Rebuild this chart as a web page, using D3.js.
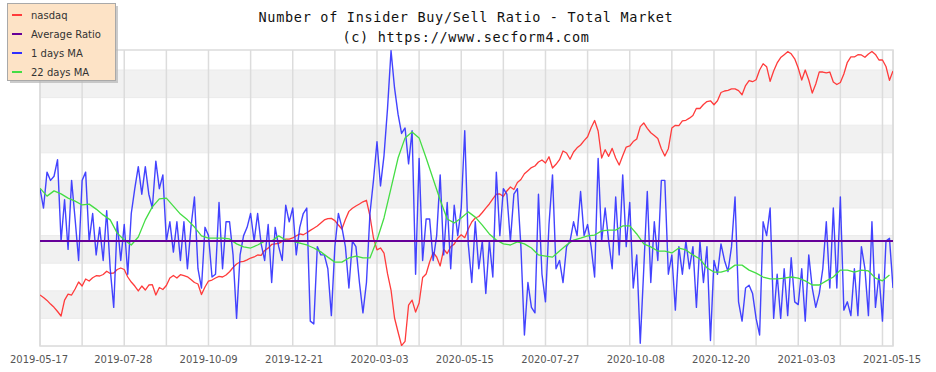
<!DOCTYPE html>
<html>

<head>
	<meta charset="UTF-8">
	<title>Number of Insider Buy/Sell Ratio - Total Market</title>
	<script src="https://cdn.jsdelivr.net/npm/d3@7"></script>
	<style>
		body {
			margin: 0;
			background: #fff;
		}

		.title {
			font-family: "DejaVu Sans Mono", monospace;
			font-size: 13.5px;
			letter-spacing: 0.7px;
			fill: #111;
		}

		.xlabel {
			font-family: "DejaVu Sans", sans-serif;
			font-size: 10px;
			fill: #555;
		}

		.legend text {
			font-family: "DejaVu Sans", sans-serif;
			font-size: 10px;
			fill: #333;
		}

		.series {
			fill: none;
			stroke-linejoin: round;
		}
	</style>
</head>

<body>
	<svg id="chart" width="936" height="372"></svg>

	<script>
		// sampling: nasdaq and 1 day MA every 3 days, 22 day MA every 6 days
		const startDate = '2019-05-17';
		const endDate = '2021-05-15';
		const sampleStep = 3;
		const maStep = 6;
		const gridStep = 36;

		const tickLabels = ['2019-05-17', '2019-07-28', '2019-10-09', '2019-12-21', '2020-03-03', '2020-05-15',
			'2020-07-27', '2020-10-08', '2020-12-20', '2021-03-03', '2021-05-15'];

		const seriesNames = ['nasdaq', 'Average Ratio', '1 days MA', '22 days MA'];
		const seriesColors = ['#ff3b3b', '#660099', '#2f2fff', '#44dd44'];

		const averageRatio = 0.38;

		const nasdaq = [
			7763, 7715, 7660, 7590, 7530, 7452, 7370, 7666, 7781, 7762,
			7879, 8016, 7937, 8076, 8036, 8102, 8142, 8136, 8166, 8232,
			8187, 8197, 8268, 8299, 8268, 8116, 8016, 7937, 7840, 7937,
			7859, 7957, 7963, 7763, 7908, 7869, 7947, 8096, 8146, 8096,
			8162, 8144, 8120, 8066, 8006, 7977, 7771, 7918, 8036, 8056,
			8096, 8128, 8116, 8156, 8222, 8309, 8381, 8423, 8437, 8468,
			8506, 8528, 8570, 8560, 8667, 8716, 8796, 8807, 8818, 8868,
			8912, 8912, 8938, 8986, 9027, 9010, 9054, 9108, 9157, 9207,
			9276, 9345, 9377, 9381, 9331, 9230, 9139, 9356, 9546, 9620,
			9674, 9722, 9775, 9811, 9437, 8938, 8678, 8720, 8612, 8183,
			7859, 7334, 7084, 6850, 6923, 7573, 7666, 7443, 7611, 8106,
			8177, 8423, 8623, 8528, 8340, 8692, 8602, 8748, 8803, 8932,
			9008, 8945, 9139, 9299, 9391, 9426, 9520, 9622, 9722, 9843,
			9961, 9966, 9904, 10040, 10139, 10077, 10253, 10329, 10476, 10556,
			10637, 10679, 10786, 10839, 10759, 10925, 10626, 10725, 10847, 11083,
			11028, 10858, 11055, 11171, 11249, 11370, 11479, 11740, 11952, 11645,
			10893, 11118, 10938, 11155, 10893, 10706, 10955, 11193, 11221, 11344,
			11417, 11770, 11878, 11722, 11594, 11514, 11429, 11146, 10947, 11146,
			11731, 11810, 11799, 11937, 11958, 12020, 12100, 12317, 12311, 12433,
			12523, 12548, 12427, 12548, 12807, 12855, 12877, 12922, 12925, 12868,
			12738, 13031, 13193, 13154, 13219, 13540, 13750, 13651, 13167, 13506,
			13778, 13963, 14065, 14168, 14095, 13922, 13608, 13209, 13540, 13209,
			12791, 13080, 13479, 13473, 13446, 13473, 13145, 13064, 13128, 13407,
			13801, 13984, 13984, 14062, 14055, 13974, 14088, 14175, 14071, 13880,
			13880, 13658, 13200, 13510
		];

		const ratio1d = [
			0.57, 0.50, 0.63, 0.60, 0.615, 0.675, 0.38, 0.53, 0.35, 0.60,
			0.46, 0.31, 0.60, 0.63, 0.38, 0.48, 0.33, 0.43, 0.31, 0.49,
			0.28, 0.14, 0.45, 0.31, 0.44, 0.26, 0.48, 0.57, 0.65, 0.55,
			0.65, 0.55, 0.50, 0.67, 0.57, 0.62, 0.38, 0.45, 0.34, 0.45,
			0.31, 0.45, 0.28, 0.43, 0.54, 0.28, 0.21, 0.43, 0.40,
			0.25, 0.26, 0.52, 0.28, 0.45, 0.45, 0.33, 0.10, 0.33, 0.40,
			0.43, 0.48, 0.38, 0.48, 0.37, 0.31, 0.44, 0.23, 0.43, 0.36,
			0.31, 0.51, 0.45, 0.50, 0.33, 0.43, 0.48, 0.50, 0.09, 0.08,
			0.36, 0.33, 0.33, 0.28, 0.11, 0.36, 0.48, 0.43, 0.36, 0.21,
			0.38, 0.36, 0.23, 0.12, 0.23, 0.48, 0.60, 0.74,
			0.58, 0.69, 0.86, 1.07, 0.935, 0.84, 0.77, 0.79, 0.66, 0.78,
			0.26, 0.68, 0.31, 0.46, 0.46, 0.31, 0.40, 0.62, 0.33, 0.52,
			0.28, 0.51, 0.40, 0.50, 0.78, 0.37, 0.23, 0.45, 0.28, 0.38,
			0.19, 0.38, 0.25, 0.63, 0.40, 0.57, 0.55, 0.38, 0.55, 0.57,
			0.36, 0.04, 0.23, 0.14, 0.12, 0.55, 0.26, 0.16, 0.44, 0.62,
			0.28, 0.31, 0.23, 0.36, 0.38, 0.45, 0.40, 0.56, 0.40, 0.44,
			0.36, 0.25, 0.68, 0.38, 0.50, 0.38, 0.28, 0.54, 0.33, 0.62,
			0.36, 0.52, 0.21, 0.33, 0.01, 0.28, 0.56, 0.23, 0.45, 0.31,
			0.60, 0.60, 0.26, 0.33, 0.13, 0.36, 0.26, 0.38, 0.28, 0.36,
			0.14, 0.38, 0.23, 0.36, 0.02, 0.31, 0.26,
			0.37, 0.31, 0.27, 0.36, 0.54, 0.16, 0.09, 0.21, 0.22, 0.19,
			0.10, 0.04, 0.45, 0.40, 0.50, 0.10, 0.26, 0.10, 0.28, 0.11,
			0.32, 0.16, 0.15, 0.28, 0.09, 0.33, 0.21, 0.14, 0.19, 0.28,
			0.45, 0.21, 0.50, 0.21, 0.54, 0.13, 0.16, 0.11, 0.28, 0.11,
			0.36, 0.28, 0.11, 0.45, 0.14, 0.26, 0.09, 0.38, 0.39, 0.21
		];

		const ratio22d = [
			0.572, 0.543, 0.562, 0.551, 0.536, 0.525, 0.511, 0.514, 0.496, 0.475,
			0.457, 0.409, 0.384, 0.366, 0.395, 0.457, 0.504, 0.533, 0.536, 0.507,
			0.478, 0.457, 0.431, 0.399, 0.391, 0.391, 0.391, 0.388, 0.370, 0.359,
			0.355, 0.366, 0.380, 0.380, 0.399, 0.384, 0.380, 0.373, 0.366, 0.355,
			0.341, 0.322, 0.304, 0.304, 0.319, 0.326, 0.319, 0.319, 0.384, 0.464,
			0.572, 0.681, 0.754, 0.775, 0.754, 0.681, 0.605, 0.529, 0.460, 0.446,
			0.464, 0.486, 0.467, 0.438, 0.406, 0.384, 0.370, 0.366, 0.377, 0.370,
			0.355, 0.330, 0.326, 0.322, 0.344, 0.366, 0.384, 0.391, 0.399, 0.402,
			0.417, 0.420, 0.420, 0.435, 0.435, 0.406, 0.370, 0.359, 0.344, 0.344,
			0.337, 0.355, 0.348, 0.330, 0.315, 0.283, 0.268, 0.268, 0.275, 0.293,
			0.293, 0.275, 0.264, 0.250, 0.243, 0.243, 0.246, 0.250, 0.246, 0.236,
			0.221, 0.221, 0.236, 0.250, 0.275, 0.275, 0.268, 0.275, 0.272, 0.246,
			0.236, 0.257
		];

		const parse = d3.utcParse('%Y-%m-%d');
		const t0 = parse(startDate), t1 = parse(endDate);

		const plot = { left: 40, right: 893, top: 50, bottom: 346 };

		const x = d3.scaleUtc().domain([t0, t1]).range([plot.left, plot.right]);
		const yRatio = d3.scaleLinear().domain([0, 1.0725]).range([plot.bottom, plot.top]);
		const yNasdaq = d3.scaleLog().domain([6843, 14227]).range([plot.bottom, plot.top]);

		const dated = (values, step) => values.map((v, i) => ({ date: d3.utcDay.offset(t0, i * step), value: v }));

		const svg = d3.select('#chart');

		svg.append('defs').append('clipPath').attr('id', 'plot-clip')
			.append('rect')
			.attr('x', plot.left).attr('y', plot.top)
			.attr('width', plot.right - plot.left).attr('height', plot.bottom - plot.top);

		// alternating bands on the ratio ticks
		const ticks = yRatio.ticks(10);
		const bandEdges = ticks.concat([yRatio.domain()[1]]);
		svg.append('g').selectAll('rect')
			.data(d3.range(bandEdges.length - 1))
			.join('rect')
			.attr('x', plot.left)
			.attr('width', plot.right - plot.left)
			.attr('y', k => yRatio(bandEdges[k + 1]))
			.attr('height', k => yRatio(bandEdges[k]) - yRatio(bandEdges[k + 1]))
			.attr('fill', k => k % 2 ? '#f1f1f1' : '#fff');

		svg.append('g').selectAll('line')
			.data(ticks)
			.join('line')
			.attr('x1', plot.left).attr('x2', plot.right)
			.attr('y1', d => yRatio(d)).attr('y2', d => yRatio(d))
			.attr('stroke', '#ebebeb').attr('stroke-width', 1);

		// vertical grid
		const gridDates = d3.utcDay.range(t0, d3.utcDay.offset(t1, 1), gridStep);
		gridDates.push(t1);
		svg.append('g').selectAll('line')
			.data(gridDates)
			.join('line')
			.attr('x1', d => x(d)).attr('x2', d => x(d))
			.attr('y1', plot.top).attr('y2', plot.bottom)
			.attr('stroke', '#dcdcdc').attr('stroke-width', 1.5);

		svg.append('rect')
			.attr('x', plot.left).attr('y', plot.top)
			.attr('width', plot.right - plot.left).attr('height', plot.bottom - plot.top)
			.attr('fill', 'none').attr('stroke', '#dcdcdc').attr('stroke-width', 1.5);

		// x labels
		svg.append('g').selectAll('text')
			.data(tickLabels)
			.join('text')
			.attr('class', 'xlabel')
			.attr('x', d => x(parse(d)) - 1)
			.attr('y', 363)
			.attr('text-anchor', 'middle')
			.text(d => d);

		// series
		const lines = svg.append('g').attr('clip-path', 'url(#plot-clip)');

		const lineRatio = d3.line().x(d => x(d.date)).y(d => yRatio(d.value));
		const lineNasdaq = d3.line().x(d => x(d.date)).y(d => yNasdaq(d.value));

		lines.append('path').attr('class', 'series')
			.attr('d', lineNasdaq(dated(nasdaq, sampleStep)))
			.attr('stroke', seriesColors[0]).attr('stroke-width', 1.3);

		lines.append('path').attr('class', 'series')
			.attr('d', lineRatio(dated(ratio1d, sampleStep)))
			.attr('stroke', seriesColors[2]).attr('stroke-width', 1.4).attr('stroke-opacity', 0.9);

		lines.append('path').attr('class', 'series')
			.attr('d', lineRatio(dated(ratio22d, maStep)))
			.attr('stroke', seriesColors[3]).attr('stroke-width', 1.3);

		lines.append('line')
			.attr('x1', x(t0)).attr('x2', x(t1))
			.attr('y1', yRatio(averageRatio)).attr('y2', yRatio(averageRatio))
			.attr('stroke', seriesColors[1]).attr('stroke-width', 2);

		// title
		svg.append('text').attr('class', 'title')
			.attr('x', 466).attr('y', 22).attr('text-anchor', 'middle')
			.text('Number of Insider Buy/Sell Ratio - Total Market');
		svg.append('text').attr('class', 'title')
			.attr('x', 466).attr('y', 42).attr('text-anchor', 'middle')
			.text('(c) https://www.secform4.com');

		// legend
		const legend = svg.append('g').attr('class', 'legend');
		legend.append('rect')
			.attr('x', 10).attr('y', 6).attr('width', 108).attr('height', 77)
			.attr('fill', '#b5b5b5').attr('opacity', 0.7);
		legend.append('rect')
			.attr('x', 7.5).attr('y', 3.5).attr('width', 108).attr('height', 77)
			.attr('fill', '#fde3c6').attr('stroke', '#a9a9a9').attr('stroke-width', 1);

		const item = legend.selectAll('g.item')
			.data(seriesNames)
			.join('g')
			.attr('class', 'item')
			.attr('transform', (d, i) => `translate(0, ${15 + i * 19})`);
		item.append('line')
			.attr('x1', 12).attr('x2', 22).attr('y1', 0).attr('y2', 0)
			.attr('stroke', (d, i) => seriesColors[i]).attr('stroke-width', 2);
		item.append('text')
			.attr('x', 31).attr('y', 4)
			.text(d => d);
	</script>
</body>

</html>
